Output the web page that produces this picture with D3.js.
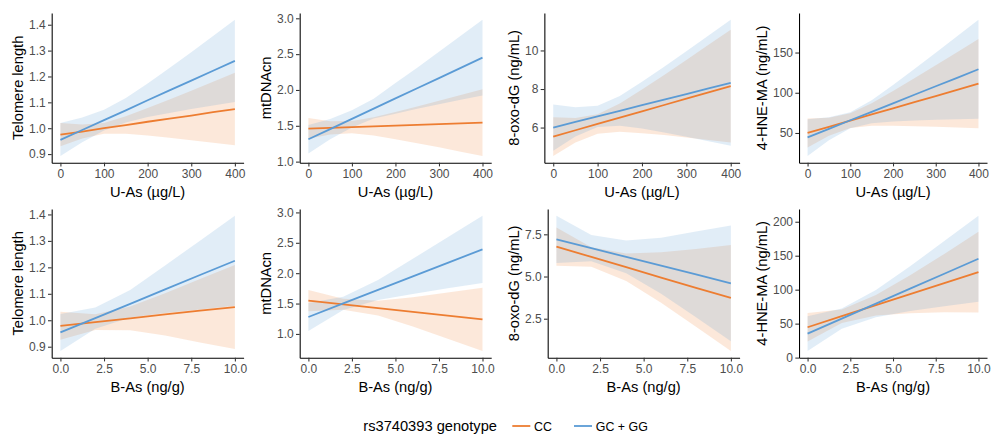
<!DOCTYPE html>
<html>
<head>
<meta charset="utf-8">
<script src="https://cdn.jsdelivr.net/npm/d3@7"></script>
<style>
  body { margin: 0; background: #fff; }
  svg { display: block; font-family: "Liberation Sans", Arial, sans-serif; }
</style>
</head>
<body>
<div id="chart"></div>
<script>
var uAsX = [0, 50, 100, 150, 200, 250, 300, 350, 400]
var bAsX = [0, 2, 4, 6, 8, 10]
var uAsTicks = [0, 100, 200, 300, 400]
var bAsTicks = [0, 2.5, 5, 7.5, 10]

var genotypes = ["CC", "GC + GG"]
var outcomes = ["Telomere length", "mtDNAcn", "8-oxo-dG (ng/mL)", "4-HNE-MA (ng/mL)"]
var exposures = ["U-As (µg/L)", "B-As (ng/g)"]

// y tick labels
var telTicks = [0.9, 1.0, 1.1, 1.2, 1.3, 1.4]
var mtTicks = [1.0, 1.5, 2.0, 2.5, 3.0]
var oxoUTicks = [6, 8, 10]
var oxoBTicks = [2.5, 5.0, 7.5]
var hneUTicks = [50, 100, 150]
var hneBTicks = [0, 50, 100, 150, 200]

// each row: [lower, fit, upper]
var telUAsCC = [[0.930, 0.975, 1.020], [0.960, 0.987, 1.014], [0.979, 1.000, 1.020], [0.979, 1.012, 1.046], [0.972, 1.025, 1.078], [0.963, 1.037, 1.111], [0.953, 1.049, 1.145], [0.944, 1.062, 1.180], [0.934, 1.074, 1.214]]
var telUAsGG = [[0.893, 0.955, 1.020], [0.946, 0.993, 1.041], [0.991, 1.031, 1.071], [1.022, 1.069, 1.117], [1.043, 1.108, 1.173], [1.059, 1.146, 1.233], [1.074, 1.184, 1.294], [1.088, 1.222, 1.356], [1.101, 1.260, 1.419]]

var mtUAsCC = [[1.320, 1.460, 1.610], [1.380, 1.471, 1.562], [1.396, 1.481, 1.566], [1.364, 1.492, 1.620], [1.314, 1.503, 1.692], [1.257, 1.513, 1.769], [1.199, 1.524, 1.849], [1.139, 1.534, 1.929], [1.080, 1.545, 2.010]]
var mtUAsGG = [[1.112, 1.312, 1.512], [1.312, 1.454, 1.596], [1.477, 1.597, 1.717], [1.601, 1.739, 1.877], [1.668, 1.882, 2.096], [1.737, 2.024, 2.311], [1.801, 2.166, 2.532], [1.863, 2.309, 2.755], [1.923, 2.451, 2.979]]

var oxoUAsCC = [[4.53, 5.53, 6.53], [5.22, 5.86, 6.50], [5.68, 6.19, 6.69], [5.78, 6.51, 7.25], [5.71, 6.84, 7.97], [5.61, 7.17, 8.73], [5.48, 7.50, 9.51], [5.35, 7.82, 10.29], [5.22, 8.15, 11.08]]
var oxoUAsGG = [[4.80, 6.00, 7.20], [5.53, 6.29, 7.05], [6.03, 6.58, 7.13], [6.10, 6.87, 7.64], [5.95, 7.16, 8.37], [5.75, 7.45, 9.15], [5.52, 7.74, 9.96], [5.29, 8.03, 10.77], [5.05, 8.32, 11.59]]

var hneUAsCC = [[32.0, 50.0, 68.0], [46.4, 57.7, 68.9], [56.1, 65.3, 74.5], [58.9, 73.0, 87.0], [59.1, 80.6, 102.2], [58.5, 88.3, 118.0], [57.7, 95.9, 134.1], [56.8, 103.6, 150.4], [55.8, 111.3, 166.7]]
var hneUAsGG = [[21.5, 44.6, 67.1], [41.0, 55.2, 69.4], [55.8, 65.8, 75.8], [62.1, 76.3, 90.6], [64.3, 86.9, 109.5], [65.5, 97.5, 129.5], [66.4, 108.1, 149.8], [67.1, 118.6, 170.2], [67.7, 129.2, 190.7]]

var telBAsCC = [[0.926, 0.979, 1.032], [0.963, 0.993, 1.023], [0.962, 1.007, 1.052], [0.942, 1.022, 1.102], [0.916, 1.036, 1.156], [0.891, 1.050, 1.209]]
var telBAsGG = [[0.884, 0.954, 1.024], [0.968, 1.008, 1.048], [1.010, 1.062, 1.114], [1.027, 1.117, 1.207], [1.041, 1.171, 1.301], [1.055, 1.225, 1.395]]

var mtBAsCC = [[1.373, 1.548, 1.723], [1.397, 1.487, 1.577], [1.305, 1.425, 1.545], [1.124, 1.364, 1.604], [0.922, 1.302, 1.682], [0.720, 1.241, 1.762]]
var mtBAsGG = [[1.049, 1.279, 1.509], [1.392, 1.502, 1.612], [1.559, 1.724, 1.889], [1.657, 1.947, 2.237], [1.750, 2.170, 2.590], [1.839, 2.392, 2.945]]

var oxoBAsCC = [[5.64, 6.77, 7.90], [5.58, 6.16, 6.74], [4.73, 5.55, 6.37], [3.44, 4.94, 6.44], [2.03, 4.33, 6.63], [0.59, 3.73, 6.87]]
var oxoBAsGG = [[5.80, 7.20, 8.60], [5.90, 6.68, 7.46], [5.19, 6.16, 7.13], [3.98, 5.64, 7.30], [2.58, 5.12, 7.66], [1.17, 4.60, 8.03]]

var hneBAsCC = [[23.6, 44.7, 65.8], [50.9, 60.9, 70.9], [62.1, 77.1, 92.1], [65.3, 93.3, 121.3], [66.6, 109.6, 152.6], [66.3, 125.8, 185.3]]
var hneBAsGG = [[9.8, 35.4, 61.0], [42.4, 57.4, 72.4], [59.4, 79.4, 99.4], [68.5, 101.5, 134.5], [75.5, 123.5, 171.5], [82.2, 145.5, 208.8]]

var panels = [
  { row: 0, col: 0, yTicks: telTicks, yFmt: ".1f", series: [telUAsCC, telUAsGG] },
  { row: 0, col: 1, yTicks: mtTicks, yFmt: ".1f", series: [mtUAsCC, mtUAsGG] },
  { row: 0, col: 2, yTicks: oxoUTicks, yFmt: "d", series: [oxoUAsCC, oxoUAsGG] },
  { row: 0, col: 3, yTicks: hneUTicks, yFmt: "d", series: [hneUAsCC, hneUAsGG] },
  { row: 1, col: 0, yTicks: telTicks, yFmt: ".1f", series: [telBAsCC, telBAsGG] },
  { row: 1, col: 1, yTicks: mtTicks, yFmt: ".1f", series: [mtBAsCC, mtBAsGG] },
  { row: 1, col: 2, yTicks: oxoBTicks, yFmt: ".1f", series: [oxoBAsCC, oxoBAsGG] },
  { row: 1, col: 3, yTicks: hneBTicks, yFmt: "d", series: [hneBAsCC, hneBAsGG] }
]

var width = 992, height = 435
var colours = ["#ED7D31", "#5B9BD5"]
var cellW = width / 4
var rowTop = [13, 209], rowBottom = [162.7, 357.7]
var panelRight = [243.6, 491.2, 739.6, 987]
var tickColour = "#4D4D4D"

var svg = d3.select("#chart")
  .append("svg")
  .attr("width", width)
  .attr("height", height)

var measure = svg.append("text").style("font-size", "12px").attr("opacity", 0)
function textWidth(s) {
  measure.text(s)
  return measure.node().getComputedTextLength()
}

function styleAxis(sel) {
  sel.select(".domain").attr("stroke", "#000").attr("stroke-width", 1.07)
  sel.selectAll(".tick line").attr("stroke", "#333").attr("stroke-width", 1.07)
  sel.selectAll(".tick text")
    .attr("fill", tickColour)
    .style("font-size", "12px")
    .style("font-family", '"Liberation Sans", Arial, sans-serif')
}

panels.forEach(function(p) {
  var cellLeft = p.col * cellW
  var yFormat = d3.format(p.yFmt)
  var labelW = d3.max(p.yTicks, function(t) { return textWidth(yFormat(t)) })
  var left = cellLeft + 35 + labelW
  var right = panelRight[p.col]
  var top = rowTop[p.row], bottom = rowBottom[p.row]
  var xs = p.row === 0 ? uAsX : bAsX
  var xTicks = p.row === 0 ? uAsTicks : bAsTicks
  var xFormat = p.row === 0 ? d3.format("d") : d3.format(".1f")

  var xExt = d3.extent(xs)
  var xPad = (xExt[1] - xExt[0]) * 0.05
  var xScale = d3.scaleLinear()
    .domain([xExt[0] - xPad, xExt[1] + xPad])
    .range([left, right])

  var vals = []
  p.series.forEach(function(s) { s.forEach(function(d) { vals.push(d[0], d[2]) }) })
  var yExt = d3.extent(vals)
  var yPad = (yExt[1] - yExt[0]) * 0.05
  var yScale = d3.scaleLinear()
    .domain([yExt[0] - yPad, yExt[1] + yPad])
    .range([bottom, top])

  var g = svg.append("g").attr("class", "panel")

  var band = d3.area()
    .x(function(d, i) { return xScale(xs[i]) })
    .y0(function(d) { return yScale(d[0]) })
    .y1(function(d) { return yScale(d[2]) })

  var fit = d3.line()
    .x(function(d, i) { return xScale(xs[i]) })
    .y(function(d) { return yScale(d[1]) })

  // ribbons
  p.series.forEach(function(s, k) {
    g.append("path")
      .attr("d", band(s))
      .attr("fill", colours[k])
      .attr("fill-opacity", 0.18)
  })

  // fitted lines
  p.series.forEach(function(s, k) {
    g.append("path")
      .attr("d", fit(s))
      .attr("fill", "none")
      .attr("stroke", colours[k])
      .attr("stroke-width", 1.8)
  })

  // axes
  g.append("g")
    .attr("transform", `translate(0,${bottom})`)
    .call(d3.axisBottom(xScale).tickValues(xTicks).tickFormat(xFormat)
      .tickSizeInner(3.7).tickSizeOuter(0).tickPadding(3))
    .call(styleAxis)

  g.append("g")
    .attr("transform", `translate(${left},0)`)
    .call(d3.axisLeft(yScale).tickValues(p.yTicks).tickFormat(yFormat)
      .tickSizeInner(3.7).tickSizeOuter(0).tickPadding(2.3))
    .call(styleAxis)

  // axis titles
  g.append("text")
    .attr("x", (left + right) / 2)
    .attr("y", bottom + 34)
    .attr("text-anchor", "middle")
    .style("font-size", "14.67px")
    .text(exposures[p.row])

  g.append("text")
    .attr("transform", `translate(${cellLeft + 22.5},${(top + bottom) / 2}) rotate(-90)`)
    .attr("text-anchor", "middle")
    .style("font-size", "14.67px")
    .text(outcomes[p.col])
})

// legend
var legend = svg.append("g").attr("class", "legend")
var legendY = 426

legend.append("text")
  .attr("x", 363.3)
  .attr("y", legendY + 4.8)
  .style("font-size", "14.67px")
  .text("rs3740393 genotype")

var keyX = [512.3, 574]
genotypes.forEach(function(name, k) {
  legend.append("line")
    .attr("x1", keyX[k])
    .attr("x2", keyX[k] + 18)
    .attr("y1", legendY)
    .attr("y2", legendY)
    .attr("stroke", colours[k])
    .attr("stroke-width", 1.8)
  legend.append("text")
    .attr("x", keyX[k] + 21.8)
    .attr("y", legendY + 4.5)
    .style("font-size", "12.4px")
    .text(name)
})

measure.remove()
</script>
</body>
</html>
